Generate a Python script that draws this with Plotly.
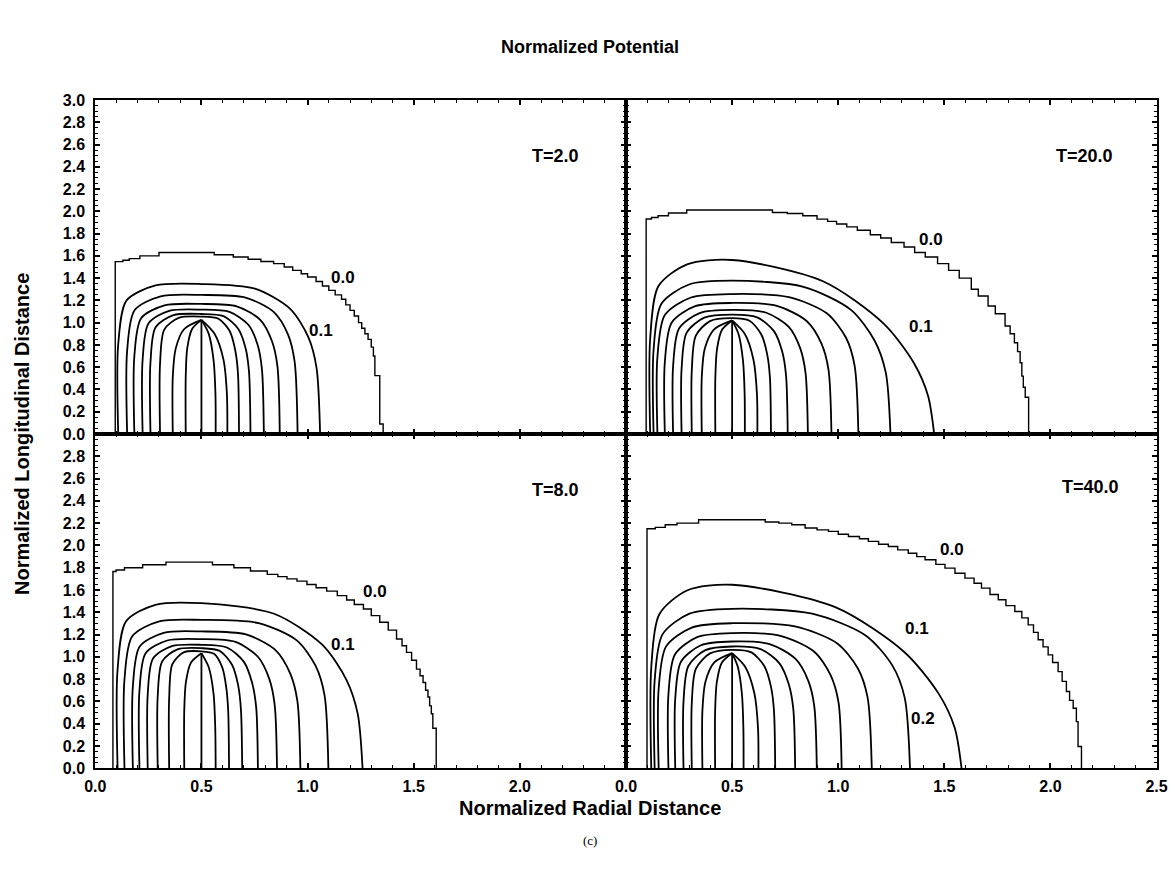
import plotly.graph_objects as go

# ---------------------------------------------------------------
# Equipotential lines, four time steps (radial r, longitudinal z)
# Each arch is one contour level; None splits the two branches of
# levels that close on the electrode tip.
# ---------------------------------------------------------------

# ---- T = 2.0 ----
r0_t2 = [0.094, 0.094, 0.13, 0.16, 0.21, 0.30, 0.56, 0.65, 0.72, 0.78, 0.84, 0.89, 0.93,
         0.97, 1.00, 1.04, 1.07, 1.10, 1.13, 1.16, 1.18, 1.20, 1.22, 1.24, 1.255, 1.27,
         1.285, 1.30, 1.31, 1.317, 1.34, 1.356]
z0_t2 = [0, 1.548, 1.56, 1.575, 1.60, 1.63, 1.61, 1.59, 1.57, 1.55, 1.53, 1.50, 1.47,
         1.44, 1.41, 1.37, 1.33, 1.29, 1.25, 1.21, 1.16, 1.11, 1.06, 1.00, 0.95, 0.90,
         0.85, 0.78, 0.70, 0.524, 0.09, 0]
r_t2 = [
    [0.108, 0.108, 0.147, 0.284, 0.5, 0.752, 0.919, 1.003, 1.042, 1.059],
    [0.15, 0.15, 0.185, 0.308, 0.5, 0.704, 0.840, 0.908, 0.939, 0.953],
    [0.184, 0.184, 0.216, 0.326, 0.5, 0.666, 0.777, 0.832, 0.858, 0.869],
    [0.223, 0.223, 0.251, 0.348, 0.5, 0.632, 0.721, 0.765, 0.785, 0.794],
    [0.26, 0.26, 0.284, 0.368, 0.5, 0.604, 0.673, 0.708, 0.724, 0.731],
    [0.305, 0.305, 0.325, 0.393, 0.5, 0.580, 0.633, 0.659, 0.672, 0.677],
    [0.365, 0.365, 0.379, 0.419, 0.5, None, 0.5, 0.561, 0.604, 0.620, 0.622],
    [0.426, 0.426, 0.433, 0.456, 0.5, None, 0.5, 0.534, 0.557, 0.566, 0.567],
]
z_t2 = [
    [0, 0.808, 1.199, 1.334, 1.347, 1.305, 1.122, 0.872, 0.597, 0],
    [0, 0.749, 1.112, 1.237, 1.249, 1.227, 1.097, 0.893, 0.649, 0],
    [0, 0.701, 1.040, 1.156, 1.168, 1.147, 1.025, 0.835, 0.607, 0],
    [0, 0.670, 0.994, 1.106, 1.117, 1.097, 0.981, 0.799, 0.581, 0],
    [0, 0.647, 0.959, 1.067, 1.078, 1.059, 0.946, 0.771, 0.561, 0],
    [0, 0.632, 0.938, 1.043, 1.054, 1.035, 0.925, 0.754, 0.548, 0],
    [0, 0.513, 0.769, 0.943, 1.025, None, 1.025, 0.902, 0.666, 0.359, 0],
    [0, 0.513, 0.769, 0.943, 1.025, None, 1.025, 0.902, 0.666, 0.359, 0],
]
stem_r_t2 = [0.5, 0.5]
stem_z_t2 = [0.0, 1.025]
lab_t2 = ["0.0", "0.1"]
lab_r_t2 = [1.166, 1.065]
lab_z_t2 = [1.41, 0.934]

# ---- T = 8.0 ----
r0_t8 = [0.083, 0.083, 0.098, 0.1375, 0.223, 0.333, 0.552, 0.653, 0.731, 0.81, 0.86, 0.903,
         0.95, 0.997, 1.04, 1.09, 1.14, 1.184, 1.22, 1.263, 1.30, 1.34, 1.38, 1.419, 1.445,
         1.466, 1.49, 1.513, 1.53, 1.544, 1.556, 1.567, 1.575, 1.583, 1.59, 1.606]
z0_t8 = [0, 1.766, 1.78, 1.80, 1.826, 1.85, 1.826, 1.80, 1.77, 1.74, 1.72, 1.70,
         1.68, 1.65, 1.62, 1.59, 1.55, 1.51, 1.47, 1.43, 1.37, 1.31, 1.24, 1.16, 1.10,
         1.04, 0.97, 0.89, 0.83, 0.77, 0.70, 0.64, 0.56, 0.49, 0.36, 0]
r_t8 = [
    [0.105, 0.105, 0.145, 0.283, 0.5, 0.842, 1.069, 1.183, 1.236, 1.259],
    [0.1375, 0.1375, 0.174, 0.301, 0.5, 0.769, 0.949, 1.038, 1.080, 1.098],
    [0.177, 0.177, 0.209, 0.322, 0.5, 0.710, 0.850, 0.919, 0.952, 0.966],
    [0.208, 0.208, 0.237, 0.339, 0.5, 0.660, 0.767, 0.820, 0.845, 0.856],
    [0.247, 0.247, 0.272, 0.361, 0.5, 0.620, 0.700, 0.739, 0.758, 0.766],
    [0.294, 0.294, 0.315, 0.387, 0.5, 0.586, 0.644, 0.673, 0.686, 0.692],
    [0.348, 0.348, 0.363, 0.416, 0.5, 0.559, 0.598, 0.617, 0.626, 0.630],
    [0.419, 0.419, 0.427, 0.451, 0.5, None, 0.5, 0.534, 0.557, 0.565, 0.567],
]
z_t8 = [
    [0, 0.889, 1.319, 1.467, 1.482, 1.387, 1.109, 0.794, 0.491, 0],
    [0, 0.799, 1.185, 1.319, 1.332, 1.303, 1.148, 0.919, 0.654, 0],
    [0, 0.737, 1.093, 1.216, 1.228, 1.201, 1.059, 0.847, 0.603, 0],
    [0, 0.695, 1.032, 1.147, 1.159, 1.134, 0.999, 0.800, 0.569, 0],
    [0, 0.665, 0.986, 1.097, 1.108, 1.084, 0.955, 0.765, 0.544, 0],
    [0, 0.647, 0.959, 1.067, 1.078, 1.054, 0.929, 0.744, 0.529, 0],
    [0, 0.630, 0.935, 1.040, 1.050, 1.027, 0.905, 0.725, 0.516, 0],
    [0, 0.517, 0.775, 0.950, 1.033, None, 1.033, 0.909, 0.671, 0.362, 0],
]
stem_r_t8 = [0.5, 0.5]
stem_z_t8 = [0.0, 1.033]
lab_t8 = ["0.0", "0.1"]
lab_r_t8 = [1.317, 1.169]
lab_z_t8 = [1.587, 1.108]

# ---- T = 20.0 ----
r0_t20 = [0.095, 0.095, 0.12, 0.151, 0.20, 0.286, 0.69, 0.76, 0.833, 0.90, 0.95, 0.992,
          1.04, 1.09, 1.151, 1.20, 1.25, 1.31, 1.36, 1.41, 1.468, 1.52, 1.57, 1.627, 1.66,
          1.706, 1.74, 1.786, 1.81, 1.83, 1.845, 1.857, 1.865, 1.872, 1.881, 1.897]
z0_t20 = [0, 1.931, 1.945, 1.961, 1.985, 2.012, 1.99, 1.98, 1.96, 1.93, 1.91, 1.886,
          1.86, 1.83, 1.79, 1.76, 1.72, 1.68, 1.63, 1.59, 1.53, 1.47, 1.40, 1.30, 1.24,
          1.15, 1.08, 0.97, 0.90, 0.82, 0.74, 0.64, 0.52, 0.42, 0.33, 0]
r_t20 = [
    [0.114, 0.114, 0.153, 0.288, 0.5, 0.928, 1.214, 1.357, 1.423, 1.452],
    [0.130, 0.130, 0.167, 0.297, 0.5, 0.836, 1.060, 1.171, 1.224, 1.246],
    [0.148, 0.148, 0.183, 0.306, 0.5, 0.768, 0.946, 1.036, 1.077, 1.095],
    [0.183, 0.183, 0.215, 0.326, 0.5, 0.711, 0.851, 0.921, 0.954, 0.968],
    [0.222, 0.222, 0.250, 0.347, 0.5, 0.661, 0.768, 0.821, 0.846, 0.857],
    [0.262, 0.262, 0.286, 0.369, 0.5, 0.618, 0.697, 0.736, 0.754, 0.762],
    [0.310, 0.310, 0.329, 0.396, 0.5, 0.582, 0.637, 0.665, 0.678, 0.683],
    [0.357, 0.357, 0.371, 0.414, 0.5, None, 0.5, 0.560, 0.601, 0.617, 0.619],
    [0.421, 0.421, 0.429, 0.453, 0.5, None, 0.5, 0.530, 0.551, 0.559, 0.560],
]
z_t20 = [
    [0, 0.860, 1.329, 1.524, 1.563, 1.372, 0.991, 0.636, 0.344, 0],
    [0, 0.757, 1.170, 1.343, 1.377, 1.322, 1.115, 0.840, 0.551, 0],
    [0, 0.691, 1.068, 1.226, 1.257, 1.229, 1.084, 0.867, 0.617, 0],
    [0, 0.647, 1.000, 1.148, 1.177, 1.151, 1.015, 0.812, 0.578, 0],
    [0, 0.613, 0.947, 1.086, 1.114, 1.089, 0.960, 0.769, 0.547, 0],
    [0, 0.590, 0.911, 1.045, 1.072, 1.048, 0.924, 0.740, 0.526, 0],
    [0, 0.572, 0.884, 1.014, 1.040, 1.017, 0.896, 0.718, 0.511, 0],
    [0, 0.510, 0.765, 0.938, 1.020, None, 1.020, 0.898, 0.663, 0.357, 0],
    [0, 0.510, 0.765, 0.938, 1.020, None, 1.020, 0.898, 0.663, 0.357, 0],
]
stem_r_t20 = [0.5, 0.5]
stem_z_t20 = [0.0, 1.020]
lab_t20 = ["0.0", "0.1"]
lab_r_t20 = [1.437, 1.389]
lab_z_t20 = [1.75, 0.963]

# ---- T = 40.0 ----
r0_t40 = [0.099, 0.099, 0.138, 0.185, 0.24, 0.342, 0.656, 0.72, 0.781, 0.844, 0.90, 0.954,
          1.00, 1.048, 1.10, 1.142, 1.19, 1.236, 1.28, 1.33, 1.37, 1.409, 1.46, 1.503,
          1.55, 1.597, 1.64, 1.675, 1.715, 1.754, 1.79, 1.832, 1.865, 1.895, 1.92, 1.942,
          1.965, 1.989, 2.01, 2.036, 2.055, 2.075, 2.09, 2.107, 2.122, 2.13, 2.146]
z0_t40 = [0, 2.15, 2.162, 2.186, 2.20, 2.23, 2.21, 2.20, 2.186, 2.156, 2.14, 2.126,
          2.10, 2.08, 2.06, 2.036, 2.01, 1.99, 1.96, 1.93, 1.90, 1.871, 1.83, 1.796,
          1.75, 1.707, 1.66, 1.617, 1.56, 1.512, 1.46, 1.407, 1.35, 1.287, 1.22, 1.153,
          1.09, 1.018, 0.95, 0.868, 0.78, 0.689, 0.61, 0.539, 0.419, 0.195, 0]
r_t40 = [
    [0.119, 0.119, 0.157, 0.290, 0.5, 0.986, 1.311, 1.473, 1.549, 1.581],
    [0.135, 0.135, 0.172, 0.299, 0.5, 0.877, 1.129, 1.254, 1.313, 1.338],
    [0.154, 0.154, 0.189, 0.310, 0.5, 0.796, 0.994, 1.092, 1.138, 1.158],
    [0.200, 0.200, 0.230, 0.335, 0.5, 0.732, 0.887, 0.964, 1.001, 1.016],
    [0.232, 0.232, 0.259, 0.353, 0.5, 0.680, 0.799, 0.859, 0.887, 0.899],
    [0.271, 0.271, 0.294, 0.374, 0.5, 0.634, 0.723, 0.767, 0.788, 0.797],
    [0.310, 0.310, 0.329, 0.396, 0.5, 0.591, 0.652, 0.683, 0.697, 0.703],
    [0.360, 0.360, 0.374, 0.416, 0.5, None, 0.5, 0.562, 0.605, 0.622, 0.624],
    [0.420, 0.420, 0.428, 0.452, 0.5, None, 0.5, 0.527, 0.546, 0.553, 0.554],
]
z_t40 = [
    [0, 0.906, 1.383, 1.598, 1.647, 1.446, 1.044, 0.670, 0.362, 0],
    [0, 0.787, 1.202, 1.388, 1.431, 1.387, 1.192, 0.926, 0.634, 0],
    [0, 0.716, 1.094, 1.263, 1.302, 1.273, 1.122, 0.898, 0.639, 0],
    [0, 0.667, 1.019, 1.177, 1.213, 1.186, 1.046, 0.837, 0.596, 0],
    [0, 0.626, 0.956, 1.104, 1.138, 1.113, 0.981, 0.785, 0.559, 0],
    [0, 0.601, 0.918, 1.060, 1.093, 1.069, 0.942, 0.754, 0.537, 0],
    [0, 0.585, 0.893, 1.031, 1.063, 1.040, 0.916, 0.733, 0.522, 0],
    [0, 0.517, 0.775, 0.950, 1.033, None, 1.033, 0.909, 0.671, 0.362, 0],
    [0, 0.517, 0.775, 0.950, 1.033, None, 1.033, 0.909, 0.671, 0.362, 0],
]
stem_r_t40 = [0.5, 0.5]
stem_z_t40 = [0.0, 1.033]
lab_t40 = ["0.0", "0.1", "0.2"]
lab_r_t40 = [1.534, 1.369, 1.40]
lab_z_t40 = [1.96, 1.257, 0.449]

# panel titles and their placement inside each frame
titles = ["T=2.0", "T=20.0", "T=8.0", "T=40.0"]
title_r = [2.17, 2.16, 2.17, 2.19]
title_z = [2.50, 2.50, 2.50, 2.52]

FONT = "Arial, Liberation Sans, sans-serif"

fig = go.Figure()

panels = [
    (r0_t2, z0_t2, r_t2, z_t2, stem_r_t2, stem_z_t2, lab_t2, lab_r_t2, lab_z_t2, "x", "y"),
    (r0_t20, z0_t20, r_t20, z_t20, stem_r_t20, stem_z_t20, lab_t20, lab_r_t20, lab_z_t20, "x2", "y2"),
    (r0_t8, z0_t8, r_t8, z_t8, stem_r_t8, stem_z_t8, lab_t8, lab_r_t8, lab_z_t8, "x3", "y3"),
    (r0_t40, z0_t40, r_t40, z_t40, stem_r_t40, stem_z_t40, lab_t40, lab_r_t40, lab_z_t40, "x4", "y4"),
]

annotations = []
for i, (r0, z0, rs, zs, sr, sz, labs, lr, lz, xa, ya) in enumerate(panels):
    # outermost (zero) level, drawn on the mesh as a staircase
    fig.add_trace(go.Scatter(x=r0, y=z0, mode="lines", xaxis=xa, yaxis=ya,
                             line=dict(color="black", width=1.4, shape="hv"),
                             hoverinfo="skip", showlegend=False))
    for xs, ys in zip(rs, zs):
        fig.add_trace(go.Scatter(x=xs, y=ys, mode="lines", xaxis=xa, yaxis=ya,
                                 connectgaps=False,
                                 line=dict(color="black", width=1.8, shape="spline", smoothing=0.8),
                                 hoverinfo="skip", showlegend=False))
    # electrode axis line up to the tip
    fig.add_trace(go.Scatter(x=sr, y=sz, mode="lines", xaxis=xa, yaxis=ya,
                             line=dict(color="black", width=1.8),
                             hoverinfo="skip", showlegend=False))
    for t, x, y in zip(labs, lr, lz):
        annotations.append(dict(x=x, y=y, xref=xa, yref=ya, text=t, showarrow=False,
                                xanchor="center", yanchor="middle",
                                font=dict(family=FONT, size=17, color="black", weight="bold")))
    annotations.append(dict(x=title_r[i], y=title_z[i], xref=xa, yref=ya, text=titles[i],
                            showarrow=False, xanchor="center", yanchor="middle",
                            font=dict(family=FONT, size=18, color="black", weight="bold")))

W, H = 1175, 884
x_left = [95.3 / W, 626.0 / W]
x_right = [626.0 / W, 1156.6 / W]
y_top = [1 - 434.0 / H, 1 - 100.0 / H]
y_bot = [1 - 768.3 / H, 1 - 434.0 / H]

tick_font = dict(family=FONT, size=16, color="black", weight="bold")


def xaxis(domain, anchor, labels, alias):
    return dict(domain=domain, anchor=anchor, range=[0, 2.5], showline=True, linecolor="black",
                linewidth=2, mirror="ticks", ticks="inside", ticklen=5, tickwidth=1.5,
                tickcolor="black", tickmode="linear", tick0=0, dtick=0.5, tickformat=".1f",
                showgrid=False, zeroline=False, showticklabels=labels, tickfont=tick_font,
                ticklabelstandoff=2, labelalias=alias, automargin=False,
                minor=dict(tickmode="linear", tick0=0, dtick=0.1, ticks="inside", ticklen=3,
                           tickwidth=1, tickcolor="black", showgrid=False))


def yaxis(domain, anchor, labels, alias):
    return dict(domain=domain, anchor=anchor, range=[0, 3.0], showline=True, linecolor="black",
                linewidth=2, mirror="ticks", ticks="inside", ticklen=5, tickwidth=1.5,
                tickcolor="black", tickmode="linear", tick0=0, dtick=0.2, tickformat=".1f",
                showgrid=False, zeroline=False, showticklabels=labels, tickfont=tick_font,
                ticklabelstandoff=5, labelalias=alias, automargin=False,
                minor=dict(tickmode="linear", tick0=0, dtick=0.05, ticks="inside", ticklen=3,
                           tickwidth=1, tickcolor="black", showgrid=False))


annotations += [
    dict(x=590 / W, y=1 - 47 / H, xref="paper", yref="paper", text="Normalized Potential",
         showarrow=False, xanchor="center", yanchor="middle",
         font=dict(family=FONT, size=18, color="black", weight="bold")),
    dict(x=22 / W, y=1 - 434 / H, xref="paper", yref="paper",
         text="Normalized Longitudinal Distance", textangle=-90, showarrow=False,
         xanchor="center", yanchor="middle",
         font=dict(family=FONT, size=20, color="black", weight="bold")),
    dict(x=590 / W, y=1 - 808 / H, xref="paper", yref="paper", text="Normalized Radial Distance",
         showarrow=False, xanchor="center", yanchor="middle",
         font=dict(family=FONT, size=20, color="black", weight="bold")),
    dict(x=590 / W, y=1 - 840 / H, xref="paper", yref="paper", text="(c)", showarrow=False,
         xanchor="center", yanchor="middle",
         font=dict(family="Liberation Serif, Times New Roman, serif", size=13, color="black")),
]

fig.update_layout(
    width=W, height=H, autosize=False,
    margin=dict(l=0, r=0, t=0, b=0),
    paper_bgcolor="white", plot_bgcolor="white",
    showlegend=False,
    xaxis=xaxis(x_left, "y", False, {}),
    yaxis=yaxis(y_top, "x", True, {}),
    xaxis2=xaxis(x_right, "y2", False, {}),
    yaxis2=yaxis(y_top, "x2", False, {}),
    xaxis3=xaxis(x_left, "y3", True, {"2.5": " "}),
    yaxis3=yaxis(y_bot, "x3", True, {"3.0": " "}),
    xaxis4=xaxis(x_right, "y4", True, {}),
    yaxis4=yaxis(y_bot, "x4", False, {}),
    annotations=annotations,
)

fig.write_html("out.html")
